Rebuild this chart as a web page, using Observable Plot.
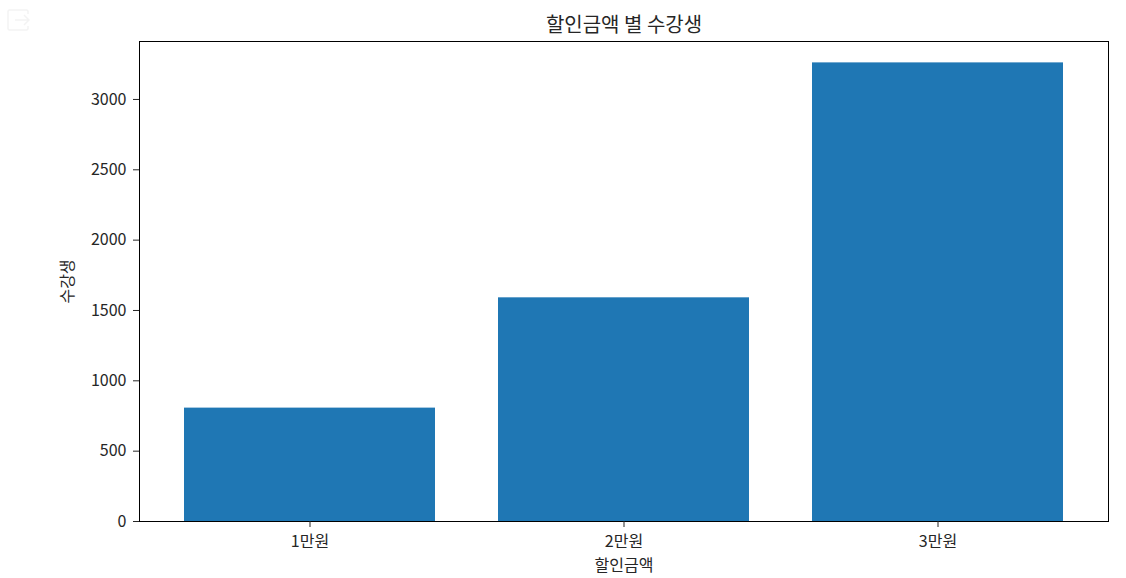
<!DOCTYPE html>
<html><head><meta charset="utf-8">
<script src="https://cdn.jsdelivr.net/npm/d3@7"></script>
<script src="https://cdn.jsdelivr.net/npm/@observablehq/plot@0.6"></script>
<style>html,body{margin:0;padding:0;background:#fff}#c{position:relative;width:1126px;height:578px}#icon{position:absolute;left:7px;top:9px}</style>
</head><body><div id="c"></div>
<script>
const categories = ["1만원","2만원","3만원"];
const students = [806, 1590, 3260];
const yTicks = [0,500,1000,1500,2000,2500,3000];
const titleText = "할인금액 별 수강생";
const xLabel = "할인금액";
const yLabel = "수강생";
const table = categories.map((c,i)=>({c,v:students[i]}));
const font = "'Noto Sans CJK KR','Noto Sans',sans-serif";
const x0 = 139, x1 = 1108, y0 = 521, y1 = 41;
const plot = Plot.plot({
  width:1126, height:578,
  marginLeft:x0, marginRight:1126-x1, marginTop:y1, marginBottom:578-y0,
  style:{fontFamily:font,fontSize:"16px",color:"#262626",background:"#fff"},
  x:{domain:categories,paddingInner:0.2,paddingOuter:0.14,align:0.5,label:null},
  y:{domain:[0,3412],label:null,ticks:yTicks},
  marks:[
    Plot.barY(table,{x:"c",y:"v",fill:"#1f77b4"}),
    Plot.frame({stroke:"#000",strokeWidth:1}),
    Plot.axisX({tickSize:6,tickPadding:8,label:null,fontSize:16}),
    Plot.axisY({ticks:yTicks,tickSize:6,tickPadding:7,tickFormat:d=>String(d),label:null,fontSize:16}),
    Plot.text([xLabel],{frameAnchor:"bottom",dy:49,text:d=>d,fontSize:16}),
    Plot.text([yLabel],{frameAnchor:"left",dx:-72,rotate:-90,textAnchor:"middle",text:d=>d,fontSize:16}),
    Plot.text([titleText],{frameAnchor:"top",dy:-24,text:d=>d,fontSize:20})
  ]
});
const c = document.getElementById("c");
c.appendChild(plot);
c.insertAdjacentHTML("beforeend",'<svg id="icon" width="23" height="23" viewBox="0 0 23 23" fill="none" stroke="#f3f3f3" stroke-width="1.5"><path d="M21 5V2.5a1.5 1.5 0 0 0-1.5-1.5h-17A1.5 1.5 0 0 0 1 2.5v17A1.5 1.5 0 0 0 2.5 21h17a1.5 1.5 0 0 0 1.5-1.5V17"/><path d="M8 11h14M17 6l5 5-5 5"/></svg>');
</script></body></html>
